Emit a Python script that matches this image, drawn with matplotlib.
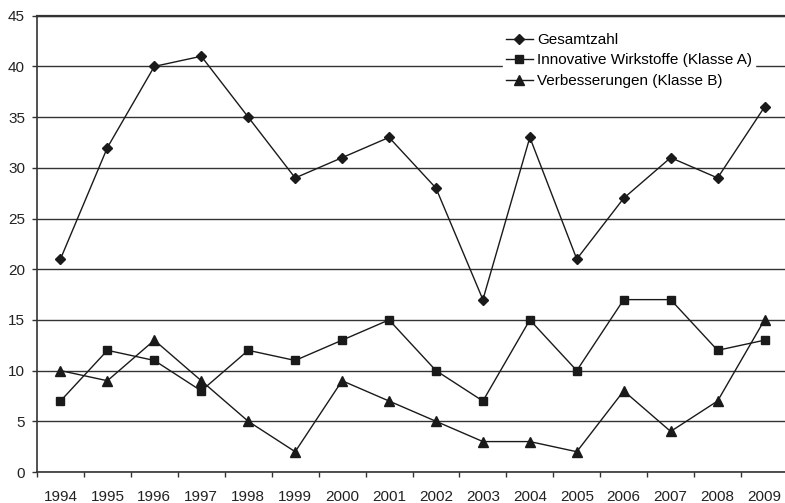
import matplotlib
matplotlib.use("Agg")
import matplotlib.pyplot as plt
from matplotlib.ticker import FixedLocator

years = ["1994", "1995", "1996", "1997", "1998", "1999", "2000", "2001",
         "2002", "2003", "2004", "2005", "2006", "2007", "2008", "2009"]
gesamt = [21, 32, 40, 41, 35, 29, 31, 33, 28, 17, 33, 21, 27, 31, 29, 36]
klasse_a = [7, 12, 11, 8, 12, 11, 13, 15, 10, 7, 15, 10, 17, 17, 12, 13]
klasse_b = [10, 9, 13, 9, 5, 2, 9, 7, 5, 3, 3, 2, 8, 4, 7, 15]
labels = ["Gesamtzahl", "Innovative Wirkstoffe (Klasse A)", "Verbesserungen (Klasse B)"]

plt.rcParams['font.family'] = ['Liberation Sans', 'DejaVu Sans']

W, H = 785, 503
fig = plt.figure(figsize=(W / 100, H / 100), dpi=100)
left, right, top, bottom = 37, 788, 15.7, 472
ax = fig.add_axes([left / W, 1 - bottom / H, (right - left) / W, (bottom - top) / H])

x = list(range(len(years)))
c = '#1a1a1a'
ax.plot(x, gesamt, color=c, lw=1.0, marker='D', ms=5, label=labels[0])
ax.plot(x, klasse_a, color=c, lw=1.0, marker='s', ms=5.5, label=labels[1])
ax.plot(x, klasse_b, color=c, lw=1.0, marker='^', ms=7, label=labels[2])

ax.set_xlim(-0.5, len(years) - 0.5)
ax.set_ylim(0, 45)
ax.set_yticks(range(0, 46, 5))
ax.yaxis.grid(True, color='#333333', lw=1.0)
ax.set_axisbelow(True)

ax.set_xticks(x)
ax.set_xticklabels(years)
ax.xaxis.set_minor_locator(FixedLocator([i - 0.5 for i in range(len(years) + 1)]))
ax.tick_params(axis='x', which='major', length=0, pad=13, labelsize=11, colors='#222222')
ax.tick_params(axis='x', which='minor', length=3.6, width=1, color='#333333')
ax.tick_params(axis='y', length=3.6, width=1, color='#333333', labelsize=11, labelcolor='#222222', pad=5)

ax.spines['right'].set_visible(False)
ax.spines['top'].set_color('#333333')
ax.spines['top'].set_linewidth(1.6)
ax.spines['left'].set_color('#333333')
ax.spines['bottom'].set_color('#333333')
ax.spines['left'].set_linewidth(1.2)
ax.spines['bottom'].set_linewidth(1.2)

leg = ax.legend(loc='upper left', bbox_to_anchor=((503 - left) / (right - left), 1 - (30 - top) / (bottom - top)),
                frameon=True, fontsize=11, handlelength=1.75, handletextpad=0.3,
                labelspacing=0.42, borderpad=0.2, borderaxespad=0)
leg.get_frame().set_facecolor('white')
leg.get_frame().set_edgecolor('white')
leg.get_frame().set_alpha(1)
leg.get_frame().set_boxstyle('square', pad=0)

fig.savefig("out.png", dpi=100)
